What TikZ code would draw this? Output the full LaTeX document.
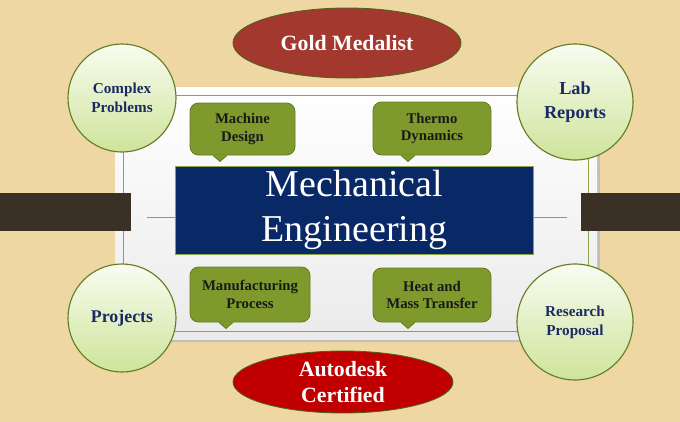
\documentclass[tikz,border=0pt]{standalone}
\usepackage{fontspec}
\setmainfont{Liberation Serif}
\usepackage{tikz}
\usetikzlibrary{positioning,shapes.geometric}
\definecolor{bgtan}{RGB}{238,215,163}
\definecolor{barbrown}{RGB}{58,48,38}
\definecolor{navy}{RGB}{8,40,102}
\definecolor{olive}{RGB}{126,154,44}
\definecolor{olivedark}{RGB}{100,124,34}
\definecolor{frameline}{RGB}{140,165,70}
\definecolor{circtop}{RGB}{248,252,240}
\definecolor{circbot}{RGB}{206,228,155}
\definecolor{circtext}{RGB}{28,42,100}
\definecolor{goldred}{RGB}{163,56,46}
\definecolor{autored}{RGB}{192,0,0}
\tikzset{
  skill/.style={circle, draw=olivedark, line width=0.8pt, top color=circtop, bottom color=circbot,
                inner sep=0pt, text=circtext, font=\bfseries, align=center},
  subject/.style={rectangle, rounded corners=6pt, draw=olivedark, fill=olive, line width=0.6pt,
                  text=black!90, inner sep=0pt, align=center,
                  font=\fontsize{10.5}{12.5}\selectfont\bfseries},
  award/.style={ellipse, draw=olivedark!80!black, line width=0.6pt, text=white, inner sep=0pt,
                align=center, font=\fontsize{15.5}{19}\selectfont\bfseries},
  title/.style={rectangle, draw=frameline, fill=navy, text=white, inner sep=0pt, align=center,
                font=\fontsize{27}{32}\selectfont},
  thin/.style={draw=frameline, line width=0.6pt},
}

\begin{document}
\begin{tikzpicture}[x=0.025cm, y=-0.025cm]
  \useasboundingbox (0,0) rectangle (680,422);
  \fill[bgtan] (0,0) rectangle (680,422);

  % panel with frame
  \fill[black!25] (118,90) rectangle (600,342);
  \shade[top color=white, bottom color=black!8] (115,87) rectangle (597,339);
  \draw[thin] (123,95) rectangle (588,331);

  % side bars
  \fill[barbrown] (0,193) rectangle (131,231);
  \fill[barbrown] (581,193) rectangle (680,231);

  % centre
  \node[title, minimum width=358*0.025cm, minimum height=88*0.025cm] (me) at (354.5,210)
    {Mechanical\\Engineering};
  \coordinate (lstub) at (147,217);
  \coordinate (rstub) at (567,217);
  \draw[thin] (lstub) -- (lstub -| me.west);
  \draw[thin] (me.east |- rstub) -- (rstub);

  % subjects
  \node[subject, minimum width=105*0.025cm, minimum height=52*0.025cm] (md) at (242.5,129) {Machine\\Design};
  \node[subject, minimum width=118*0.025cm, minimum height=53*0.025cm] (td) at (432,128.5) {Thermo\\Dynamics};
  \node[subject, minimum width=120*0.025cm, minimum height=55*0.025cm] (mp) at (250,294.5) {Manufacturing\\Process};
  \node[subject, minimum width=118*0.025cm, minimum height=54*0.025cm] (hm) at (432,295) {Heat and\\Mass Transfer};
  \foreach \s/\px in {md/220, td/408, mp/226, hm/408}{
    \path (\px,0 |- \s.south) coordinate (\s tip);
    \filldraw[olive, draw=olivedark, line width=0.6pt] ([xshift=-7*0.025cm]\s tip) -- ([yshift=-6*0.025cm]\s tip) -- ([xshift=7*0.025cm]\s tip);
    \fill[olive] ([xshift=-6.5*0.025cm, yshift=0.8*0.025cm]\s tip) rectangle ([xshift=6.5*0.025cm, yshift=-0.5*0.025cm]\s tip);
  }

  % skills
  \node[skill, minimum size=108*0.025cm, font=\fontsize{10.8}{13.5}\selectfont\bfseries] (cp) at (122,98) {Complex\\Problems};
  \node[skill, minimum size=116*0.025cm, font=\fontsize{13}{16.5}\selectfont\bfseries] (lr) at (575,102) {Lab\\Reports};
  \node[skill, minimum size=108*0.025cm, font=\fontsize{12.7}{15}\selectfont\bfseries] (pj) at (122,318) {Projects};
  \node[skill, minimum size=116*0.025cm, font=\fontsize{10.8}{13.5}\selectfont\bfseries] (rp) at (575,322) {Research\\Proposal};

  % awards
  \node[award, fill=goldred, minimum width=228*0.025cm, minimum height=70*0.025cm] (gm) at (347,43) {Gold Medalist};
  \node[award, fill=autored, minimum width=220*0.025cm, minimum height=62*0.025cm] (ac) at (343,382) {Autodesk\\Certified};
\end{tikzpicture}
\end{document}
